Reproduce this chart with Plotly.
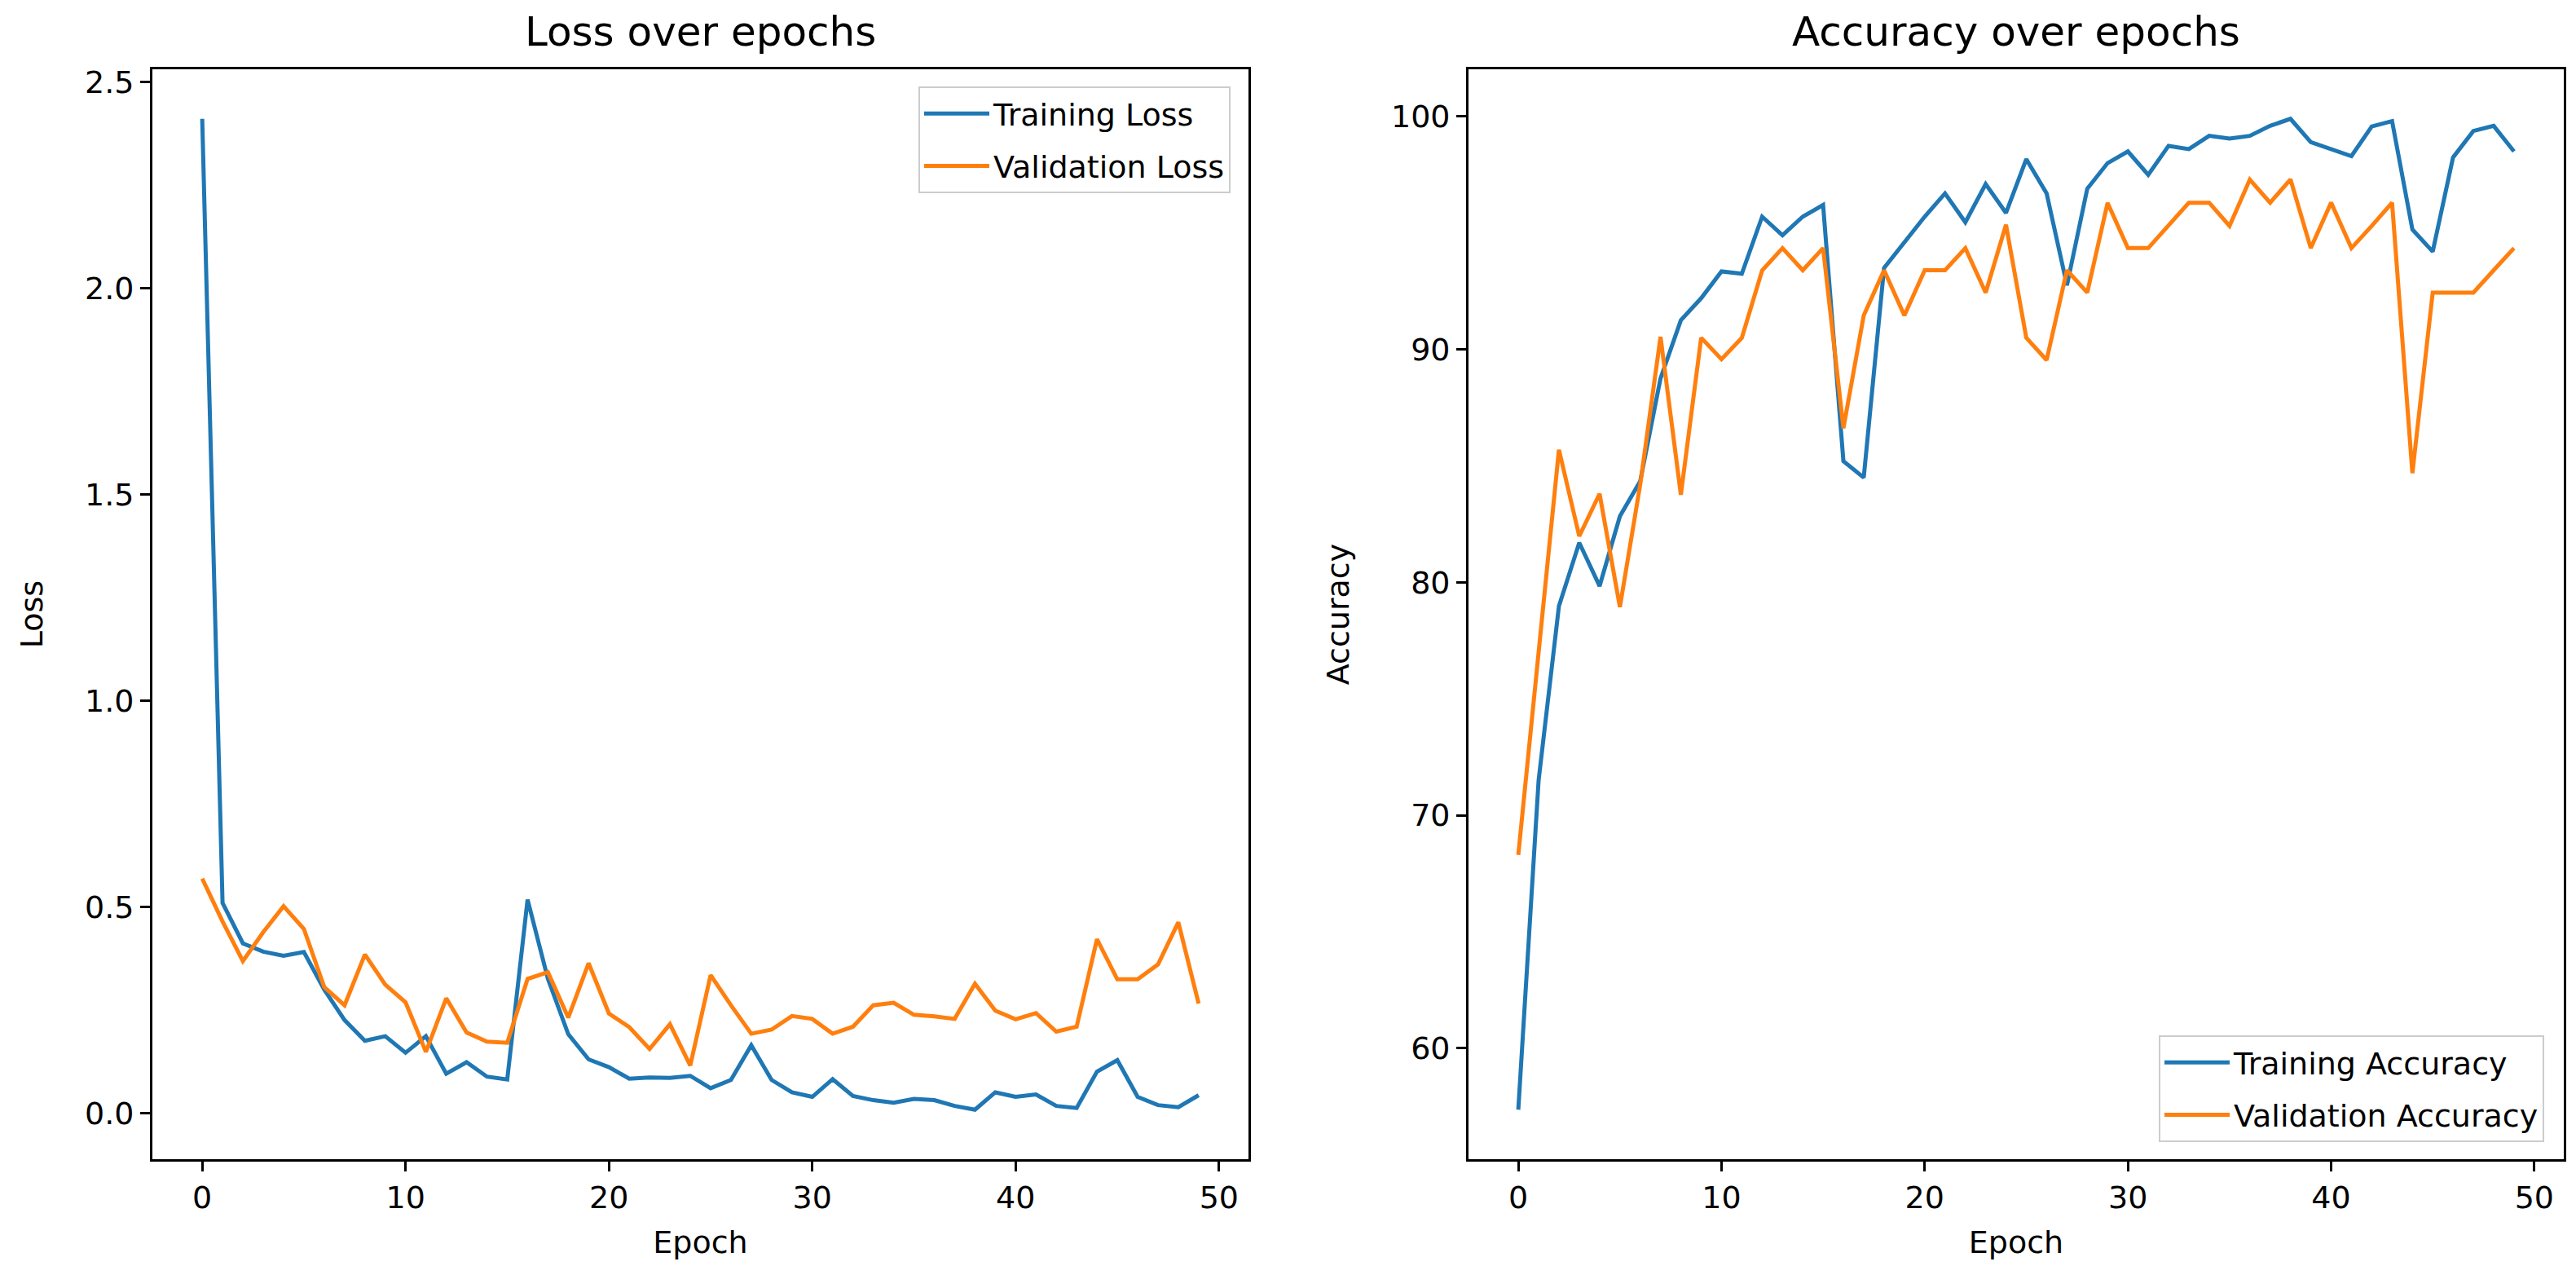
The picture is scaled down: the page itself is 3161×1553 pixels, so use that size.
import plotly.graph_objects as go

epochs = list(range(50))

train_loss = [2.41, 0.51, 0.412, 0.392, 0.382, 0.391, 0.30, 0.226, 0.176, 0.187,
              0.147, 0.187, 0.096, 0.124, 0.089, 0.082, 0.518, 0.326, 0.192, 0.131,
              0.112, 0.084, 0.087, 0.086, 0.091, 0.061, 0.081, 0.165, 0.081, 0.051,
              0.040, 0.083, 0.042, 0.032, 0.026, 0.035, 0.032, 0.018, 0.009, 0.051,
              0.040, 0.046, 0.018, 0.013, 0.101, 0.129, 0.040, 0.020, 0.015, 0.044]

val_loss = [0.569, 0.465, 0.369, 0.439, 0.502, 0.447, 0.306, 0.262, 0.385, 0.312,
            0.269, 0.149, 0.279, 0.196, 0.174, 0.171, 0.326, 0.342, 0.232, 0.364,
            0.242, 0.209, 0.156, 0.216, 0.116, 0.335, 0.262, 0.193, 0.203, 0.236,
            0.229, 0.193, 0.210, 0.262, 0.268, 0.239, 0.235, 0.229, 0.314, 0.249,
            0.228, 0.243, 0.198, 0.210, 0.422, 0.325, 0.325, 0.361, 0.463, 0.266]

train_acc = [57.36, 71.5, 78.98, 81.7, 79.84, 82.84, 84.34, 88.76, 91.25, 92.2,
             93.35, 93.25, 95.7, 94.9, 95.7, 96.2, 85.2, 84.5, 93.5, 94.6,
             95.7, 96.7, 95.46, 97.1, 95.86, 98.17, 96.7, 92.75, 96.9, 98.0,
             98.5, 97.5, 98.74, 98.6, 99.17, 99.05, 99.17, 99.6, 99.9, 98.9,
             98.6, 98.3, 99.57, 99.8, 95.15, 94.2, 98.24, 99.38, 99.6, 98.5]

val_acc = [68.3, 76.9, 85.69, 81.98, 83.8, 78.94, 84.2, 90.54, 83.76, 90.5,
           89.58, 90.5, 93.39, 94.35, 93.4, 94.35, 86.62, 91.46, 93.4, 91.46,
           93.4, 93.4, 94.35, 92.44, 95.35, 90.5, 89.54, 93.4, 92.44, 96.29,
           94.35, 94.35, 95.3, 96.3, 96.3, 95.3, 97.29, 96.3, 97.3, 94.35,
           96.3, 94.35, 95.3, 96.3, 84.69, 92.44, 92.44, 92.44, 93.4, 94.35]

x_ticks = [0, 10, 20, 30, 40, 50]
loss_ticks = [0.0, 0.5, 1.0, 1.5, 2.0, 2.5]
acc_ticks = [60, 70, 80, 90, 100]

BLUE = "#1f77b4"
ORANGE = "#ff7f0e"
FONT = "DejaVu Sans"
TICK_SIZE = 38
TITLE_SIZE = 50
LW = 5


def auto_range(*series):
    lo = min(min(s) for s in series)
    hi = max(max(s) for s in series)
    pad = (hi - lo) * 0.05
    return [lo - pad, hi + pad]


fig = go.Figure()
fig.add_trace(go.Scatter(x=epochs, y=train_loss, mode="lines", name="Training Loss",
                         line=dict(color=BLUE, width=LW), xaxis="x", yaxis="y",
                         legend="legend", legendgroup="a"))
fig.add_trace(go.Scatter(x=epochs, y=val_loss, mode="lines", name="Validation Loss",
                         line=dict(color=ORANGE, width=LW), xaxis="x", yaxis="y",
                         legend="legend", legendgroup="b"))
fig.add_trace(go.Scatter(x=epochs, y=train_acc, mode="lines", name="Training Accuracy",
                         line=dict(color=BLUE, width=LW), xaxis="x2", yaxis="y2",
                         legend="legend2", legendgroup="c"))
fig.add_trace(go.Scatter(x=epochs, y=val_acc, mode="lines", name="Validation Accuracy",
                         line=dict(color=ORANGE, width=LW), xaxis="x2", yaxis="y2",
                         legend="legend2", legendgroup="d"))

W, H = 3161, 1553
ML, MR, MT, MB = 179, 23, 77, 139
PW = W - ML - MR
PH = H - MT - MB


def px_x(p):
    return (p - ML) / PW


def px_y(p):
    return 1 - (p - MT) / PH


axis_common = dict(
    showline=True, linecolor="black", linewidth=2.7, mirror=True,
    ticks="outside", ticklen=12, tickwidth=2.7, tickcolor="black",
    showgrid=False, zeroline=False,
    tickfont=dict(family=FONT, size=TICK_SIZE, color="black"),
    title_font=dict(family=FONT, size=TICK_SIZE, color="black"),
)

xr = auto_range(epochs)

legend_common = dict(
    bgcolor="rgba(255,255,255,0.8)", bordercolor="#cccccc", borderwidth=2,
    font=dict(family=FONT, size=TICK_SIZE, color="black"),
    itemwidth=80, tracegroupgap=12,
)

fig.update_layout(
    width=W, height=H,
    margin=dict(l=ML, r=MR, t=MT, b=MB),
    paper_bgcolor="white", plot_bgcolor="white",
    font=dict(family=FONT, size=TICK_SIZE, color="black"),
    xaxis=dict(domain=[0, px_x(1524)], range=xr, tickvals=x_ticks,
               title=dict(text="Epoch", standoff=20), anchor="y", **axis_common),
    yaxis=dict(domain=[0, 1], range=auto_range(train_loss, val_loss),
               tickvals=loss_ticks, tickformat=".1f",
               title=dict(text="Loss", standoff=40), anchor="x", **axis_common),
    xaxis2=dict(domain=[px_x(1794), 1], range=xr, tickvals=x_ticks,
                title=dict(text="Epoch", standoff=20), anchor="y2", **axis_common),
    yaxis2=dict(domain=[0, 1], range=auto_range(train_acc, val_acc),
                tickvals=acc_ticks,
                title=dict(text="Accuracy", standoff=40), anchor="x2", **axis_common),
    legend=dict(x=px_x(1502), y=px_y(98), xanchor="right", yanchor="top",
                **legend_common),
    legend2=dict(x=px_x(3114), y=px_y(1393), xanchor="right", yanchor="bottom",
                 **legend_common),
    showlegend=True,
)

title_y = 1 + (MT - 62) / PH
fig.add_annotation(text="Loss over epochs", x=(px_x(179) + px_x(1524)) / 2, y=title_y,
                   xref="paper", yref="paper", xanchor="center", yanchor="bottom",
                   showarrow=False, font=dict(family=FONT, size=TITLE_SIZE, color="black"))
fig.add_annotation(text="Accuracy over epochs", x=(px_x(1794) + px_x(3138)) / 2, y=title_y,
                   xref="paper", yref="paper", xanchor="center", yanchor="bottom",
                   showarrow=False, font=dict(family=FONT, size=TITLE_SIZE, color="black"))

fig.write_html("out.html")
